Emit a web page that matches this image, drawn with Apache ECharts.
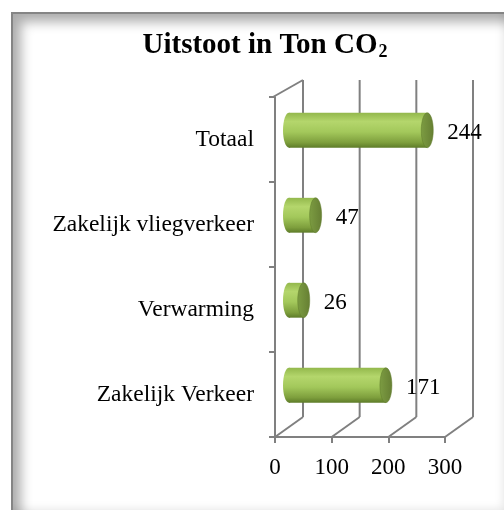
<!DOCTYPE html>
<html>
<head>
<meta charset="utf-8">
<script src="https://cdn.jsdelivr.net/npm/echarts@6/dist/echarts.min.js"></script>
<style>
  html, body { margin: 0; padding: 0; background: #fff; overflow: hidden; }
  #frame {
    position: absolute; left: 11px; top: 12px; width: 495px; height: 500px;
    border-left: 2px solid #858585; border-top: 2px solid #858585;
    box-shadow: inset 8px 8px 12px rgba(0,0,0,0.32), inset -5px -5px 8px rgba(0,0,0,0.10);
  }
  #chart { position: absolute; left: 0; top: 0; width: 504px; height: 510px; }
</style>
</head>
<body>
<div id="frame"></div>
<div id="chart"></div>
<script>
// data
var categories = ['Zakelijk Verkeer', 'Verwarming', 'Zakelijk vliegverkeer', 'Totaal'];
var values = [171, 26, 47, 244];
var ticks = [0, 100, 200, 300];

// 3d look: offset of the back wall
var DX = 28, DY_TOP = -17, DY_BOTTOM = -20;
var GRAY = '#808080';
var FONT = 'Liberation Serif';

var chart = echarts.init(document.getElementById('chart'));

function bodyFill() {
    return new echarts.graphic.LinearGradient(0, 0, 0, 1, [
        {offset: 0, color: '#93b84c'},
        {offset: 0.25, color: '#b4d66c'},
        {offset: 0.55, color: '#a3c85b'},
        {offset: 0.85, color: '#7e9f3d'},
        {offset: 1, color: '#5e7c29'}
    ]);
}

function renderWall(params, api) {
    var cs = params.coordSys;
    var x = api.coord([api.value(0), 0])[0];
    var top = cs.y, bottom = cs.y + cs.height;
    var style = {stroke: GRAY, lineWidth: 2};
    var children = [
        {type: 'line', shape: {x1: x + DX, y1: top + DY_TOP, x2: x + DX, y2: bottom + DY_BOTTOM}, style: style},
        {type: 'line', shape: {x1: x, y1: bottom, x2: x + DX, y2: bottom + DY_BOTTOM}, style: style}
    ];
    if (params.dataIndex === 0) {
        children.push({type: 'line', shape: {x1: x - 2, y1: top, x2: x + DX, y2: top + DY_TOP}, style: style});
    }
    return {type: 'group', children: children};
}

function renderBar(params, api) {
    var start = api.coord([0, api.value(1)]);
    var end = api.coord([api.value(0), api.value(1)]);
    var h = api.size([0, 1])[1] * 0.41;
    var cy = start[1] + (DY_TOP + DY_BOTTOM) / 4;
    var x0 = start[0] + DX / 2;
    var x1 = end[0] + DX / 2;
    var rx = 6, ry = h / 2;
    return {
        type: 'group',
        children: [
            {type: 'ellipse', shape: {cx: x0, cy: cy, rx: rx, ry: ry}, style: {fill: bodyFill()}},
            {type: 'rect', shape: {x: x0, y: cy - ry, width: x1 - x0, height: h}, style: {fill: bodyFill()}},
            {type: 'ellipse', shape: {cx: x1, cy: cy, rx: rx, ry: ry}, style: {
                fill: new echarts.graphic.LinearGradient(0, 0, 1, 0, [
                    {offset: 0, color: '#7c9c42'},
                    {offset: 1, color: '#667f33'}
                ]),
                stroke: '#5e7a2b', lineWidth: 0.5
            }},
            {type: 'text', x: x1 + rx + 14, y: cy + 3, style: {
                text: String(api.value(0)), fill: '#000', font: '23px "' + FONT + '"',
                verticalAlign: 'middle', align: 'left'
            }}
        ]
    };
}

var option = {
    animation: false,
    title: {
        text: '{a|Uitstoot in Ton CO}{b|2}',
        left: 265,
        textAlign: 'center',
        top: 30,
        padding: 0,
        textStyle: {
            rich: {
                a: {fontFamily: FONT, fontWeight: 'bold', fontSize: 29, lineHeight: 32, color: '#000'},
                b: {fontFamily: FONT, fontWeight: 'bold', fontSize: 18, lineHeight: 19, padding: [13, 0, 0, 1], color: '#000'}
            }
        }
    },
    grid: {left: 275, top: 97, width: 170, height: 340},
    xAxis: {
        type: 'value', min: 0, max: 300, interval: 100,
        axisLine: {show: true, lineStyle: {color: GRAY, width: 2}},
        axisTick: {show: true, length: 6, lineStyle: {color: GRAY, width: 2}},
        axisLabel: {color: '#000', fontFamily: FONT, fontSize: 23, margin: 19},
        splitLine: {show: false}
    },
    yAxis: {
        type: 'category', data: categories,
        axisLine: {show: true, lineStyle: {color: GRAY, width: 2}},
        axisTick: {show: true, length: 6, lineStyle: {color: GRAY, width: 2}},
        axisLabel: {color: '#000', fontFamily: FONT, fontSize: 23.5, margin: 21}
    },
    series: [
        {
            type: 'custom', name: 'wall', silent: true, clip: false, z: 1,
            renderItem: renderWall,
            encode: {x: 0, y: 1},
            data: ticks.map(function (t) { return [t, 0]; })
        },
        {
            type: 'custom', name: 'Uitstoot', clip: false, z: 3,
            renderItem: renderBar,
            encode: {x: 0, y: 1},
            data: values.map(function (v, i) { return [v, i]; })
        }
    ]
};

chart.setOption(option);
</script>
</body>
</html>
